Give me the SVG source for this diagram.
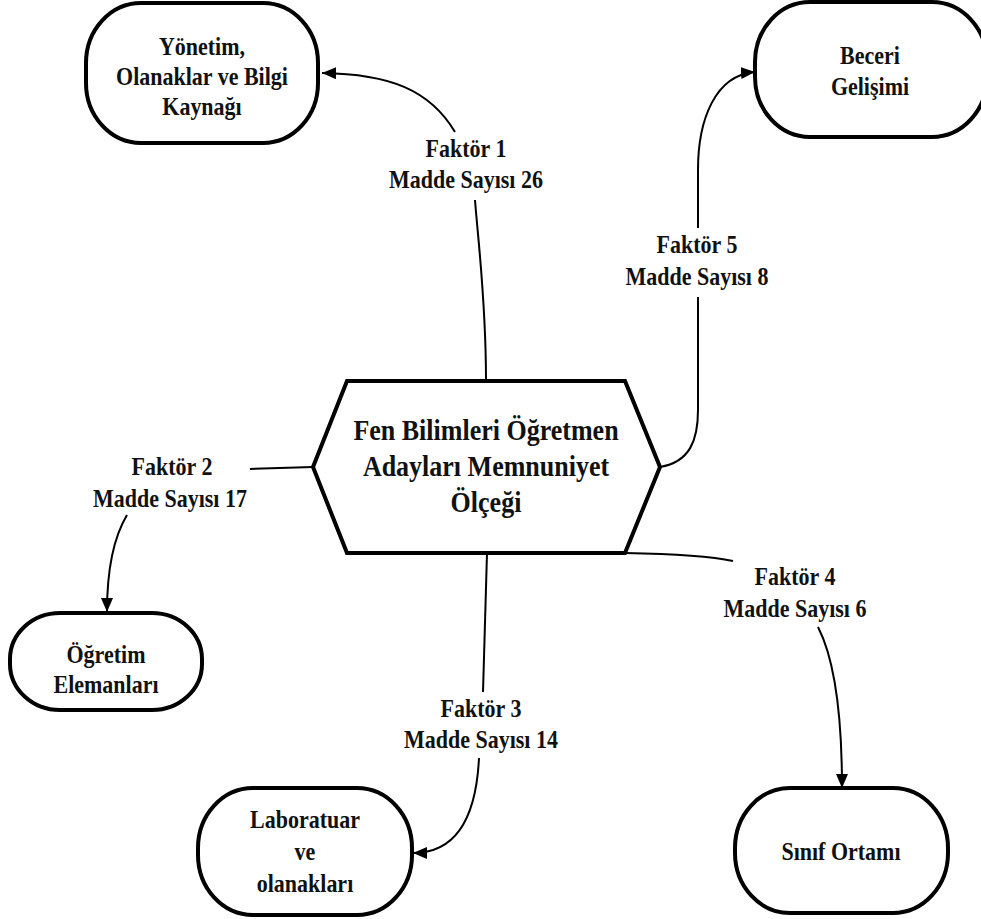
<svg xmlns="http://www.w3.org/2000/svg" width="981" height="919" viewBox="0 0 981 919">
<style>
.node{fill:#fff;stroke:#000;stroke-width:4}
.t{font-family:"Liberation Serif","Times New Roman",serif;font-weight:bold;font-size:22px;fill:#111;text-anchor:middle}
.big{font-size:26px}
.c{fill:none;stroke:#000;stroke-width:2}
</style>
<defs>
<marker id="ah" markerUnits="userSpaceOnUse" markerWidth="15" markerHeight="13" refX="14" refY="6" orient="auto">
<path d="M0,0 L14,6 L0,12 z" fill="#000"/>
</marker>
</defs>
<rect width="981" height="919" fill="#fff"/>
<g id="connectors">
<path class="c" d="M486,380 C486,300 478,240 475,200"/>
<path class="c" d="M455,132 C430,90 390,74 322,73" marker-end="url(#ah)"/>
<path class="c" d="M250,469 L313,467"/>
<path class="c" d="M127,515 C115,535 107,565 107,612" marker-end="url(#ah)"/>
<path class="c" d="M487,553 L483,692"/>
<path class="c" d="M479,758 C476,820 455,853 413,853" marker-end="url(#ah)"/>
<path class="c" d="M625,553 C680,554 710,556 733,561"/>
<path class="c" d="M818,627 C835,660 842,720 842,788" marker-end="url(#ah)"/>
<path class="c" d="M660,467 C690,462 698,440 698,410 L698,297"/>
<path class="c" d="M698,228 L698,170 C698,120 715,75 755,72" marker-end="url(#ah)"/>
</g>
<g id="center">
<polygon class="node" points="347,381 625,381 660,467 625,553 347,553 313,467"/>
<g transform="scale(1,1.1)">
<text class="t big" x="486" y="400">Fen Bilimleri Öğretmen</text>
<text class="t big" x="486" y="432.73">Adayları Memnuniyet</text>
<text class="t big" x="486" y="465.45">Ölçeği</text>
</g>
</g>
<g id="n1">
<rect class="node" x="86" y="3" width="232" height="140" rx="55" ry="60"/>
<g transform="scale(1,1.1)">
<text class="t" x="202" y="50">Yönetim,</text>
<text class="t" x="202" y="77.27">Olanaklar ve Bilgi</text>
<text class="t" x="202" y="104.55">Kaynağı</text>
</g>
</g>
<g id="n5">
<rect class="node" x="755" y="2" width="232" height="135" rx="55" ry="60"/>
<g transform="scale(1,1.1)">
<text class="t" x="870" y="58.18">Beceri</text>
<text class="t" x="870" y="86.36">Gelişimi</text>
</g>
</g>
<g id="n2">
<rect class="node" x="10" y="613" width="192" height="97" rx="50" ry="46"/>
<g transform="scale(1,1.1)">
<text class="t" x="106" y="602.73">Öğretim</text>
<text class="t" x="106" y="630">Elemanları</text>
</g>
</g>
<g id="n3">
<rect class="node" x="198" y="788" width="214" height="127" rx="55" ry="60"/>
<g transform="scale(1,1.1)">
<text class="t" x="305" y="752.73">Laboratuar</text>
<text class="t" x="305" y="781.82">ve</text>
<text class="t" x="305" y="810.91">olanakları</text>
</g>
</g>
<g id="n4">
<rect class="node" x="735" y="788" width="213" height="125" rx="55" ry="60"/>
<g transform="scale(1,1.1)">
<text class="t" x="841" y="781.82">Sınıf Ortamı</text>
</g>
</g>
<g id="labels" transform="scale(1,1.1)">
<text class="t" x="466" y="142.73">Faktör 1</text>
<text class="t" x="466" y="170.91">Madde Sayısı 26</text>
<text class="t" x="172" y="431.82">Faktör 2</text>
<text class="t" x="170" y="460.91">Madde Sayısı 17</text>
<text class="t" x="481" y="651.82">Faktör 3</text>
<text class="t" x="481" y="680">Madde Sayısı 14</text>
<text class="t" x="795" y="531.82">Faktör 4</text>
<text class="t" x="795" y="560.91">Madde Sayısı 6</text>
<text class="t" x="697" y="230">Faktör 5</text>
<text class="t" x="697" y="259.09">Madde Sayısı 8</text>
</g>
</svg>
